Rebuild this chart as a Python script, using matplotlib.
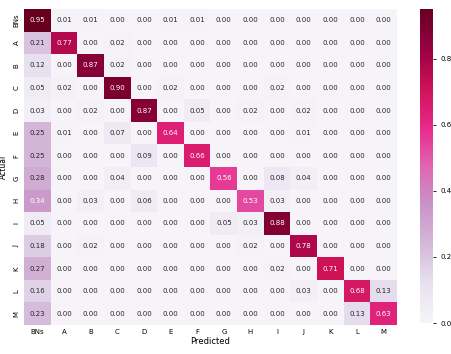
import numpy as np
import matplotlib
matplotlib.use("Agg")
import matplotlib.pyplot as plt
import seaborn as sns

labels = ["BNs", "A", "B", "C", "D", "E", "F", "G", "H", "I", "J", "K", "L", "M"]

# rows = actual, cols = predicted
row_bns = [0.95, 0.01, 0.01, 0.00, 0.00, 0.01, 0.01, 0.00, 0.00, 0.00, 0.00, 0.00, 0.00, 0.00]
row_a = [0.21, 0.77, 0.00, 0.02, 0.00, 0.00, 0.00, 0.00, 0.00, 0.00, 0.00, 0.00, 0.00, 0.00]
row_b = [0.12, 0.00, 0.87, 0.02, 0.00, 0.00, 0.00, 0.00, 0.00, 0.00, 0.00, 0.00, 0.00, 0.00]
row_c = [0.05, 0.02, 0.00, 0.90, 0.00, 0.02, 0.00, 0.00, 0.00, 0.02, 0.00, 0.00, 0.00, 0.00]
row_d = [0.03, 0.00, 0.02, 0.00, 0.87, 0.00, 0.05, 0.00, 0.02, 0.00, 0.02, 0.00, 0.00, 0.00]
row_e = [0.25, 0.01, 0.00, 0.07, 0.00, 0.64, 0.00, 0.00, 0.00, 0.00, 0.01, 0.00, 0.00, 0.00]
row_f = [0.25, 0.00, 0.00, 0.00, 0.09, 0.00, 0.66, 0.00, 0.00, 0.00, 0.00, 0.00, 0.00, 0.00]
row_g = [0.28, 0.00, 0.00, 0.04, 0.00, 0.00, 0.00, 0.56, 0.00, 0.08, 0.04, 0.00, 0.00, 0.00]
row_h = [0.34, 0.00, 0.03, 0.00, 0.06, 0.00, 0.00, 0.00, 0.53, 0.03, 0.00, 0.00, 0.00, 0.00]
row_i = [0.05, 0.00, 0.00, 0.00, 0.00, 0.00, 0.00, 0.05, 0.03, 0.88, 0.00, 0.00, 0.00, 0.00]
row_j = [0.18, 0.00, 0.02, 0.00, 0.00, 0.00, 0.00, 0.00, 0.02, 0.00, 0.78, 0.00, 0.00, 0.00]
row_k = [0.27, 0.00, 0.00, 0.00, 0.00, 0.00, 0.00, 0.00, 0.00, 0.02, 0.00, 0.71, 0.00, 0.00]
row_l = [0.16, 0.00, 0.00, 0.00, 0.00, 0.00, 0.00, 0.00, 0.00, 0.00, 0.03, 0.00, 0.68, 0.13]
row_m = [0.23, 0.00, 0.00, 0.00, 0.00, 0.00, 0.00, 0.00, 0.00, 0.00, 0.00, 0.00, 0.13, 0.63]

cm = np.array([row_bns, row_a, row_b, row_c, row_d, row_e, row_f,
               row_g, row_h, row_i, row_j, row_k, row_l, row_m])

fig = plt.figure(figsize=(4.52, 3.54), dpi=100)
ax = fig.add_axes([24 / 452, 1 - 325 / 354, 373 / 452, 316 / 354])
cax = fig.add_axes([420 / 452, 1 - 323 / 354, 13 / 452, 314 / 354])

sns.heatmap(cm, annot=True, fmt=".2f", cmap="PuRd", vmin=0, vmax=0.95,
            xticklabels=labels, yticklabels=labels, ax=ax, cbar_ax=cax,
            annot_kws={"size": 5})

ax.tick_params(length=0, labelsize=5, pad=3)
ax.set_yticklabels(labels, rotation=90, va="center")
ax.set_xticklabels(labels, rotation=0)
ax.set_xlabel("Predicted", fontsize=6, labelpad=1)
ax.set_ylabel("Actual", fontsize=5.5, labelpad=0)
ax.yaxis.set_label_coords(-0.042, 0.5)

cax.tick_params(labelsize=5, length=2, width=0.6)
cax.set_yticks([0.0, 0.2, 0.4, 0.6, 0.8])
for s in cax.spines.values():
    s.set_visible(False)

fig.savefig("out.png", dpi=100)
